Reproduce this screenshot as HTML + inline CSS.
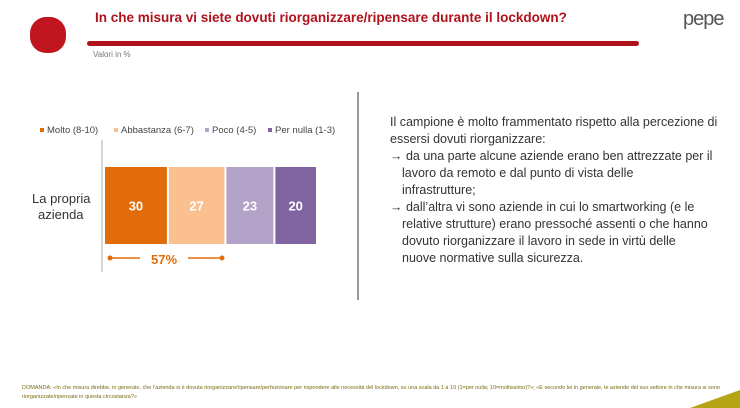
<!DOCTYPE html>
<html><head><meta charset="utf-8"><style>
body{margin:0;width:740px;height:408px;background:#fff;font-family:"Liberation Sans",sans-serif;position:relative;overflow:hidden}
.abs{position:absolute}
</style></head><body>
<div class="abs" style="left:30px;top:17px;width:36px;height:36px;border-radius:45%;background:#c0141e"></div>
<div class="abs" style="left:95px;top:10px;font-size:13.5px;font-weight:bold;color:#b0121c">In che misura vi siete dovuti riorganizzare/ripensare durante il lockdown?</div>
<div class="abs" style="left:87px;top:41px;width:552px;height:5px;border-radius:3px;background:#b0121c"></div>
<div class="abs" style="left:93px;top:50px;font-size:8px;color:#777">Valori in %</div>
<div class="abs" style="left:683px;top:8px;font-size:20px;color:#555;letter-spacing:-1px">pepe</div>
<div class="abs" style="left:357px;top:92px;width:2px;height:208px;background:#999"></div>
<svg class="abs" style="left:0;top:0" width="740" height="408">
<g id="legend"></g><g id="bars"></g>
<line x1="102" y1="140" x2="102" y2="272" stroke="#aaa" stroke-width="1"/>
<text x="32" y="203" font-size="13" fill="#333" text-anchor="start">La propria</text>
<text x="38" y="219" font-size="13" fill="#333">azienda</text>
<line x1="110" y1="258" x2="140" y2="258" stroke="#e36c0a" stroke-width="1.5"/>
<circle cx="110" cy="258" r="2.5" fill="#e36c0a"/>
<line x1="188" y1="258" x2="222" y2="258" stroke="#e36c0a" stroke-width="1.5"/>
<circle cx="222" cy="258" r="2.5" fill="#e36c0a"/>
<text x="164" y="264" font-size="13" font-weight="bold" fill="#e36c0a" text-anchor="middle">57%</text>
<polygon points="690,408 740,390 740,408" fill="#b5a514"/>
</svg>
<div class="abs" style="left:390px;top:114px;width:340px;font-size:12.5px;line-height:17px;color:#333">Il campione è molto frammentato rispetto alla percezione di essersi dovuti riorganizzare:<br>→ da una parte alcune aziende erano ben attrezzate per il <span style="padding-left:12px">lavoro da remoto e dal punto di vista delle</span><br><span style="padding-left:12px">infrastrutture;</span><br>→ dall’altra vi sono aziende in cui lo smartworking (e le <span style="padding-left:12px">relative strutture) erano pressoché assenti o che hanno</span><br><span style="padding-left:12px">dovuto riorganizzare il lavoro in sede in virtù delle</span><br><span style="padding-left:12px">nuove normative sulla sicurezza.</span></div>
<div class="abs" style="left:22px;top:384px;width:700px;font-size:5.5px;line-height:9px;color:#7a6a10">DOMANDA: «In che misura direbbe, in generale, che l’azienda si è dovuta riorganizzare/ripensare/perfezionare per rispondere alle necessità del lockdown, su una scala da 1 a 10 (1=per nulla; 10=moltissimo)?»; «E secondo lei in generale, le aziende del suo settore in che misura si sono riorganizzate/ripensate in questa circostanza?»</div>
<script>
const categories=["Molto (8-10)","Abbastanza (6-7)","Poco (4-5)","Per nulla (1-3)"];
const values=[30,27,23,20];
const colors=["#e36c0a","#fac090","#b3a2c7","#8064a2"];
const NS="http://www.w3.org/2000/svg";
const x0=105,scale=2.13,y0=167,h=77,gap=2;
function xs(v){return v*scale;}
const bars=document.getElementById('bars');
let cx=x0;
values.forEach((v,i)=>{
 const r=document.createElementNS(NS,'rect');
 r.setAttribute('x',cx);r.setAttribute('y',y0);r.setAttribute('width',xs(v)-gap);r.setAttribute('height',h);r.setAttribute('fill',colors[i]);
 
 
 bars.appendChild(r);
 const t=document.createElementNS(NS,'text');
 t.setAttribute('x',cx+(xs(v)-gap)/2);t.setAttribute('y',y0+h/2+5);t.setAttribute('text-anchor','middle');t.setAttribute('font-size','13');t.setAttribute('font-weight','bold');t.setAttribute('fill','#fff');
 t.textContent=values[i];
 
 
 bars.appendChild(t);
 cx+=xs(v);
});
const lg=document.getElementById('legend');
const lx=[40,114,205,268];
categories.forEach((c,i)=>{
 const s=document.createElementNS(NS,'rect');
 s.setAttribute('x',lx[i]);s.setAttribute('y',128);s.setAttribute('width',4);s.setAttribute('height',4);s.setAttribute('fill',colors[i]);
 
 
 lg.appendChild(s);
 const t=document.createElementNS(NS,'text');
 t.setAttribute('x',lx[i]+7);t.setAttribute('y',133);t.setAttribute('font-size','9.5');t.setAttribute('fill','#444');
 t.textContent=c;
 
 
 lg.appendChild(t);
});
</script>
</body></html>
